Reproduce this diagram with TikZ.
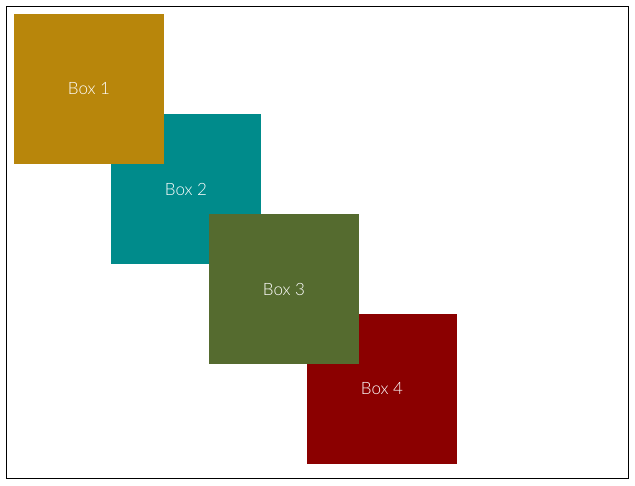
\documentclass[tikz,border=0pt]{standalone}
\usepackage{fontspec}
\setmainfont{Lato Light}
\definecolor{cgold}{HTML}{B8860B}
\definecolor{ccyan}{HTML}{008B8B}
\definecolor{colive}{HTML}{556B2F}
\definecolor{cred}{HTML}{8B0000}
\begin{document}
\begin{tikzpicture}[x=1pt,y=-1pt,
  boxnode/.style={rectangle,minimum width=150pt,minimum height=150pt,inner sep=0pt,outer sep=0pt,
    text=white,font=\fontsize{17}{20}\selectfont,anchor=north west}]
\useasboundingbox (0,0) rectangle (635,485);
\draw[line width=1pt] (6,6) rectangle (628,478);
\node[boxnode,fill=ccyan] (b2) at (111,114) {Box 2};
\node[boxnode,fill=cred] (b4) at (307,314) {Box 4};
\node[boxnode,fill=cgold] (b1) at (14,14) {Box 1};
\node[boxnode,fill=colive] (b3) at (209,214) {Box 3};
\end{tikzpicture}
\end{document}
